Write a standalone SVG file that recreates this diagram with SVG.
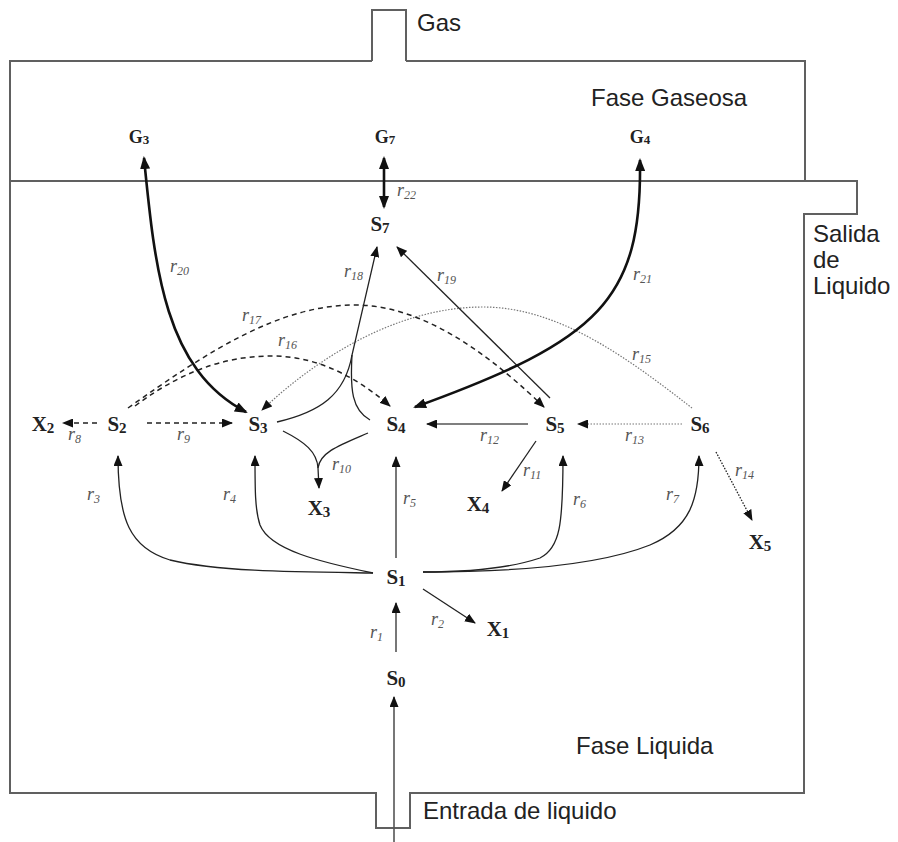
<svg xmlns="http://www.w3.org/2000/svg" width="898" height="842" viewBox="0 0 898 842">
<style>
.wall{fill:none;stroke:#606060;stroke-width:2}
.lbl{font-family:"Liberation Sans",Arial,sans-serif;font-size:24px;fill:#222}
.node{font-family:"Liberation Serif","Times New Roman",serif;font-weight:bold;font-size:21px;fill:#222}
.node .s{font-size:15px}
.gn{font-size:18px}
.gn .s{font-size:13px}
.rate{font-family:"Liberation Serif","Times New Roman",serif;font-style:italic;font-size:18px;fill:#555}
.rate .s{font-size:12px}
.e{fill:none;stroke:#222;stroke-width:1.3}
.thick{stroke:#111;stroke-width:2.6}
.gray{stroke:#555;stroke-width:1.6}
.dash{stroke:#222;stroke-width:1.5;stroke-dasharray:5 4}
.dotb{stroke:#222;stroke-width:1.3;stroke-dasharray:1.5 1.5}
.dotg{stroke:#777;stroke-width:1.2;stroke-dasharray:1.5 1.5}
</style>
<defs>
<marker id="ah" viewBox="0 0 11 9" refX="10" refY="4.5" markerWidth="11" markerHeight="9" markerUnits="userSpaceOnUse" orient="auto-start-reverse"><path d="M0,0 L11,4.5 L0,9 z" fill="#111"/></marker>
<marker id="ahb" viewBox="0 0 13 10" refX="11" refY="5" markerWidth="13" markerHeight="10" markerUnits="userSpaceOnUse" orient="auto-start-reverse"><path d="M0,0 L13,5 L0,10 z" fill="#111"/></marker>
</defs>
<rect width="898" height="842" fill="#fff"/>
<g id="reactor">
<path class="wall" d="M10,181 V61 H372 M372,61 V10 H406 V61 M406,61 H805 V181"/>
<path class="wall" d="M10,181 H857 V214 H804 V793 H410 V828 H376 V793 H10 V181"/>
<text class="lbl" x="417" y="31">Gas</text>
<text class="lbl" x="591" y="106">Fase Gaseosa</text>
<text class="lbl" x="813" y="242">Salida</text>
<text class="lbl" x="813" y="268">de</text>
<text class="lbl" x="813" y="294">Liquido</text>
<text class="lbl" x="576" y="754">Fase Liquida</text>
<text class="lbl" x="423" y="819">Entrada de liquido</text>
</g>
<g id="connectors">
<path class="e gray" d="M394,842 V697" marker-end="url(#ah)"/>
<path class="e gray" d="M396,652 V603" marker-end="url(#ah)"/>
<path class="e" d="M423,589 L475,623" marker-end="url(#ah)"/>
<path class="e" d="M373,573 C 300,572 220,572 170,560 C 130,548 118,520 118,456" marker-end="url(#ah)"/>
<path class="e" d="M373,573 C 320,562 270,550 260,525 C 255,510 255,490 255,456" marker-end="url(#ah)"/>
<path class="e gray" d="M396,558 V457" marker-end="url(#ah)"/>
<path class="e" d="M423,572 C 470,572 510,568 540,558 C 560,548 563,525 563,456" marker-end="url(#ah)"/>
<path class="e" d="M423,572 C 520,572 600,565 650,545 C 690,528 699,500 699,456" marker-end="url(#ah)"/>
<path class="e dash" d="M97,423 H63" marker-end="url(#ah)"/>
<path class="e dash" d="M147,423 H232" marker-end="url(#ah)"/>
<path class="e" d="M283,431 C 305,442 317,452 318,468"/>
<path class="e" d="M368,433 C 340,445 320,452 318,468 L319,488" marker-end="url(#ah)"/>
<path class="e" d="M536,441 L502,491" marker-end="url(#ah)"/>
<path class="e gray" d="M528,424 H427" marker-end="url(#ah)"/>
<path class="e dotg" d="M682,424 H578" marker-end="url(#ah)"/>
<path class="e dotb" d="M716,452 L752,520" marker-end="url(#ah)"/>
<path class="e dotg" d="M692,408 C 630,360 560,307 483,307 C 400,307 320,355 262,410" marker-end="url(#ah)"/>
<path class="e dash" d="M135,406 C 190,365 235,356 272,356 C 320,356 360,380 390,406" marker-end="url(#ah)"/>
<path class="e dash" d="M128,408 C 210,350 280,305 355,305 C 430,305 500,365 544,407" marker-end="url(#ah)"/>
<path class="e" d="M277,422 C 320,412 345,395 352,355"/>
<path class="e" d="M370,420 C 352,410 350,390 352,355 L377,247" marker-end="url(#ah)"/>
<path class="e" d="M550,398 L397,247" marker-end="url(#ah)"/>
<path class="e thick" d="M144,158 C 155,270 165,370 246,412" marker-start="url(#ahb)" marker-end="url(#ahb)"/>
<path class="e thick" d="M640,160 C 642,300 600,340 415,407" marker-start="url(#ahb)" marker-end="url(#ahb)"/>
<path class="e thick" d="M384,207 V158" marker-start="url(#ahb)" marker-end="url(#ahb)"/>
</g>
<g id="rates">
<text class="rate" x="370" y="638">r<tspan class="s" dy="3">1</tspan></text>
<text class="rate" x="431" y="625">r<tspan class="s" dy="3">2</tspan></text>
<text class="rate" x="87" y="500">r<tspan class="s" dy="3">3</tspan></text>
<text class="rate" x="223" y="500">r<tspan class="s" dy="3">4</tspan></text>
<text class="rate" x="403" y="504">r<tspan class="s" dy="3">5</tspan></text>
<text class="rate" x="573" y="505">r<tspan class="s" dy="3">6</tspan></text>
<text class="rate" x="666" y="500">r<tspan class="s" dy="3">7</tspan></text>
<text class="rate" x="68" y="440">r<tspan class="s" dy="3">8</tspan></text>
<text class="rate" x="177" y="440">r<tspan class="s" dy="3">9</tspan></text>
<text class="rate" x="332" y="470">r<tspan class="s" dy="3">10</tspan></text>
<text class="rate" x="523" y="476">r<tspan class="s" dy="3">11</tspan></text>
<text class="rate" x="480" y="441">r<tspan class="s" dy="3">12</tspan></text>
<text class="rate" x="625" y="441">r<tspan class="s" dy="3">13</tspan></text>
<text class="rate" x="735" y="476">r<tspan class="s" dy="3">14</tspan></text>
<text class="rate" x="632" y="360">r<tspan class="s" dy="3">15</tspan></text>
<text class="rate" x="278" y="346">r<tspan class="s" dy="3">16</tspan></text>
<text class="rate" x="242" y="321">r<tspan class="s" dy="3">17</tspan></text>
<text class="rate" x="344" y="277">r<tspan class="s" dy="3">18</tspan></text>
<text class="rate" x="437" y="281">r<tspan class="s" dy="3">19</tspan></text>
<text class="rate" x="170" y="272">r<tspan class="s" dy="3">20</tspan></text>
<text class="rate" x="633" y="280">r<tspan class="s" dy="3">21</tspan></text>
<text class="rate" x="397" y="196">r<tspan class="s" dy="3">22</tspan></text>
</g>
<g id="G3"><text class="node gn" x="139" y="143" text-anchor="middle">G<tspan class="s" dy="1">3</tspan></text></g>
<g id="G7"><text class="node gn" x="385" y="143" text-anchor="middle">G<tspan class="s" dy="1">7</tspan></text></g>
<g id="G4"><text class="node gn" x="640" y="143" text-anchor="middle">G<tspan class="s" dy="1">4</tspan></text></g>
<g id="S7"><text class="node" x="380" y="231" text-anchor="middle">S<tspan class="s" dy="2">7</tspan></text></g>
<g id="X2"><text class="node" x="43" y="431" text-anchor="middle">X<tspan class="s" dy="2">2</tspan></text></g>
<g id="S2"><text class="node" x="117" y="431" text-anchor="middle">S<tspan class="s" dy="2">2</tspan></text></g>
<g id="S3"><text class="node" x="258" y="431" text-anchor="middle">S<tspan class="s" dy="2">3</tspan></text></g>
<g id="S4"><text class="node" x="396" y="431" text-anchor="middle">S<tspan class="s" dy="2">4</tspan></text></g>
<g id="S5"><text class="node" x="555" y="431" text-anchor="middle">S<tspan class="s" dy="2">5</tspan></text></g>
<g id="S6"><text class="node" x="700" y="431" text-anchor="middle">S<tspan class="s" dy="2">6</tspan></text></g>
<g id="X3"><text class="node" x="319" y="515" text-anchor="middle">X<tspan class="s" dy="2">3</tspan></text></g>
<g id="X4"><text class="node" x="478" y="511" text-anchor="middle">X<tspan class="s" dy="2">4</tspan></text></g>
<g id="X5"><text class="node" x="760" y="549" text-anchor="middle">X<tspan class="s" dy="2">5</tspan></text></g>
<g id="S1"><text class="node" x="396" y="584" text-anchor="middle">S<tspan class="s" dy="2">1</tspan></text></g>
<g id="X1"><text class="node" x="498" y="636" text-anchor="middle">X<tspan class="s" dy="2">1</tspan></text></g>
<g id="S0"><text class="node" x="396" y="685" text-anchor="middle">S<tspan class="s" dy="2">0</tspan></text></g>
</svg>
